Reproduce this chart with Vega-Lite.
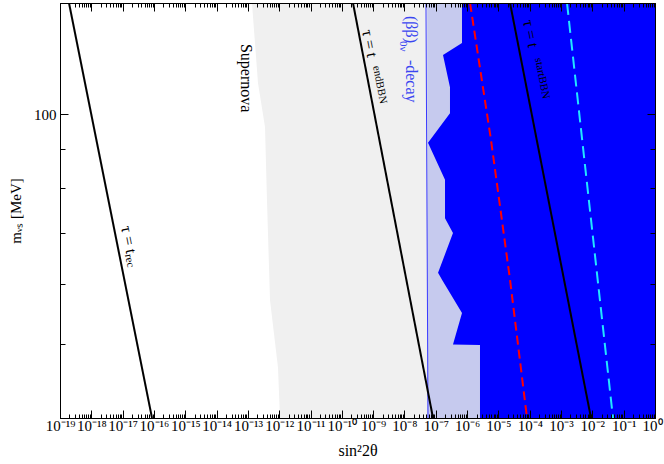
{
  "$schema": "https://vega.github.io/schema/vega-lite/v6.json",
  "width": 595,
  "height": 415,
  "autosize": {"type": "none"},
  "padding": {"left": 60, "top": 3, "right": 9, "bottom": 46},
  "background": "white",
  "config": {"view": {"stroke": "black", "strokeWidth": 1}, "font": "Liberation Serif"},
  "datasets": {
    "sn": [{"s":1.35e-13,"m":140},{"s":2.10e-13,"m":110.0},{"s":3.52e-13,"m":96.3},{"s":4.07e-13,"m":77.2},{"s":5.08e-13,"m":57.1},{"s":9.14e-13,"m":46.6},{"s":1.06e-12,"m":40}],
    "light": [{"s1":5.3e-8,"s2":2.58e-6,"m1":40,"m2":140}],
    "blue": [{"s":6.87e-7,"m":140},{"s":6.87e-7,"m":124.1},{"s":1.70e-7,"m":119.7},{"s":2.84e-7,"m":108.6},{"s":2.84e-7,"m":100.4},{"s":5.64e-8,"m":91.8},{"s":1.97e-7,"m":82.1},{"s":1.97e-7,"m":73.1},{"s":3.54e-7,"m":69.9},{"s":1.18e-7,"m":62.0},{"s":1.58e-7,"m":60.7},{"s":6.87e-7,"m":54.9},{"s":3.54e-7,"m":49.95},{"s":2.58e-6,"m":49.85},{"s":2.58e-6,"m":40}],
    "lines": [{"id":"rec","s":1.94e-19,"m":140},{"id":"rec","s":8.67e-17,"m":40},{"id":"end","s":2.27e-10,"m":140},{"id":"end","s":8.15e-8,"m":40},{"id":"start","s":2.35e-5,"m":140},{"id":"start","s":9.04e-3,"m":40}],
    "bline": [{"s":4.86e-8,"m":140},{"s":5.64e-8,"m":40}],
    "red": [{"s":1.24e-6,"m":140},{"s":5.79e-6,"m":92.6},{"s":2.35e-5,"m":60.7},{"s":8.18e-5,"m":40}],
    "cyan": [{"s":1.55e-3,"m":140},{"s":4.56e-2,"m":40}],
    "tauMain": [{"s":1.28e-17,"m":71.4,"t":"τ = t"},{"s":6.35e-10,"m":129.1,"t":"τ = t"},{"s":8.79e-5,"m":133.0,"t":"τ = t"}],
    "tauSub": [{"s":1.48e-17,"m":65.6,"t":"rec"},{"s":1.23e-9,"m":115.8,"t":"endBBN"},{"s":1.84e-4,"m":118.6,"t":"startBBN"}],
    "snLabel": [{"s":8.71e-14,"m":111.6,"t":"Supernova"}],
    "bbMain": [{"s":1.61e-8,"m":134.6,"t":"(ββ)"},{"s":1.61e-8,"m":117.9,"t":"-decay"}],
    "bbSub": [{"s":9.3e-9,"m":124.8,"t":"0ν"}]
  },
  "resolve": {"axis": {"x": "independent", "y": "independent"}},
  "layer": [
    {
      "data": {"name": "sn"},
      "mark": {"type": "area", "orient": "horizontal", "color": "#f0f0f0", "clip": true},
      "encoding": {
        "y": {"field": "m", "type": "quantitative", "scale": {"type": "log", "domain": [40, 140], "nice": false, "zero": false},
          "axis": {"orient": "left", "values": [40, 50, 60, 70, 80, 90, 100], "labelExpr": "datum.value == 100 ? '100' : ''",
            "tickSize": {"condition": {"test": "datum.value == 100", "value": -8}, "value": -5},
            "tickColor": "black", "domainColor": "black", "labelFont": "Liberation Serif", "labelFontSize": 15, "labelColor": "black", "labelPadding": 12,
            "grid": false, "zindex": 1, "labelFlush": false, "labelOverlap": false,
            "title": "mᵥₛ [MeV]", "titleFont": "Liberation Serif", "titleFontSize": 15, "titleFontWeight": "normal", "titleColor": "black", "titlePadding": 10}},
        "x": {"field": "s", "type": "quantitative", "scale": {"type": "log", "domain": [1e-19, 1], "nice": false, "zero": false},
          "axis": {"orient": "bottom",
            "values": [1e-19,2e-19,3e-19,4e-19,5e-19,6e-19,7e-19,8e-19,9e-19,1e-18,2e-18,3e-18,4e-18,5e-18,6e-18,7e-18,8e-18,9e-18,1e-17,2e-17,3e-17,4e-17,5e-17,6e-17,7e-17,8e-17,9e-17,1e-16,2e-16,3e-16,4e-16,5e-16,6e-16,7e-16,8e-16,9e-16,1e-15,2e-15,3e-15,4e-15,5e-15,6e-15,7e-15,8e-15,9e-15,1e-14,2e-14,3e-14,4e-14,5e-14,6e-14,7e-14,8e-14,9e-14,1e-13,2e-13,3e-13,4e-13,5e-13,6e-13,7e-13,8e-13,9e-13,1e-12,2e-12,3e-12,4e-12,5e-12,6e-12,7e-12,8e-12,9e-12,1e-11,2e-11,3e-11,4e-11,5e-11,6e-11,7e-11,8e-11,9e-11,1e-10,2e-10,3e-10,4e-10,5e-10,6e-10,7e-10,8e-10,9e-10,1e-9,2e-9,3e-9,4e-9,5e-9,6e-9,7e-9,8e-9,9e-9,1e-8,2e-8,3e-8,4e-8,5e-8,6e-8,7e-8,8e-8,9e-8,1e-7,2e-7,3e-7,4e-7,5e-7,6e-7,7e-7,8e-7,9e-7,1e-6,2e-6,3e-6,4e-6,5e-6,6e-6,7e-6,8e-6,9e-6,1e-5,2e-5,3e-5,4e-5,5e-5,6e-5,7e-5,8e-5,9e-5,1e-4,2e-4,3e-4,4e-4,5e-4,6e-4,7e-4,8e-4,9e-4,1e-3,2e-3,3e-3,4e-3,5e-3,6e-3,7e-3,8e-3,9e-3,1e-2,2e-2,3e-2,4e-2,5e-2,6e-2,7e-2,8e-2,9e-2,1e-1,2e-1,3e-1,4e-1,5e-1,6e-1,7e-1,8e-1,9e-1,1],
            "labelExpr": "abs(log(datum.value)/LN10 - round(log(datum.value)/LN10)) > 0.01 ? '' : '10' + (round(log(datum.value)/LN10) < 0 ? '⁻' : '') + (abs(round(log(datum.value)/LN10)) >= 10 ? ['⁰','¹','²','³','⁴','⁵','⁶','⁷','⁸','⁹'][floor(abs(round(log(datum.value)/LN10))/10)] : '') + ['⁰','¹','²','³','⁴','⁵','⁶','⁷','⁸','⁹'][abs(round(log(datum.value)/LN10)) % 10]",
            "tickSize": {"condition": {"test": "abs(log(datum.value)/LN10 - round(log(datum.value)/LN10)) < 0.01", "value": -8}, "value": -4},
            "labelAlign": {"condition": {"test": "datum.value == 1", "value": "right"}, "value": "center"},
            "labelOffset": {"condition": {"test": "datum.value == 1", "value": 7}, "value": 0},
            "tickColor": "black", "domainColor": "black", "labelFont": "Liberation Serif", "labelFontSize": 15, "labelColor": "black", "labelPadding": 8,
            "grid": false, "zindex": 1, "labelFlush": false, "labelOverlap": false, "labelBound": false,
            "title": "sin²2θ", "titleFont": "Liberation Serif", "titleFontSize": 16, "titleFontWeight": "normal", "titleColor": "black", "titlePadding": 5}},
        "x2": {"datum": 6e-8}
      }
    },
    {
      "data": {"name": "light"},
      "mark": {"type": "rect", "color": "#c6caee", "clip": true},
      "encoding": {
        "x": {"field": "s1", "type": "quantitative", "scale": {"type": "log", "domain": [1e-19, 1], "nice": false, "zero": false}, "axis": null},
        "x2": {"field": "s2"},
        "y": {"field": "m1", "type": "quantitative", "scale": {"type": "log", "domain": [40, 140], "nice": false, "zero": false}, "axis": null},
        "y2": {"field": "m2"}
      }
    },
    {
      "data": {"name": "blue"},
      "mark": {"type": "area", "orient": "horizontal", "color": "#0000ff", "clip": true},
      "encoding": {
        "x": {"field": "s", "type": "quantitative", "scale": {"type": "log", "domain": [1e-19, 1], "nice": false, "zero": false}, "axis": null},
        "x2": {"datum": 1},
        "y": {"field": "m", "type": "quantitative", "scale": {"type": "log", "domain": [40, 140], "nice": false, "zero": false}, "axis": null}
      }
    },
    {
      "data": {"name": "bline"},
      "mark": {"type": "line", "color": "#3a3aff", "strokeWidth": 1, "clip": true},
      "encoding": {
        "x": {"field": "s", "type": "quantitative", "scale": {"type": "log", "domain": [1e-19, 1], "nice": false, "zero": false},
          "axis": {"orient": "top", "values": [1e-19,2e-19,3e-19,4e-19,5e-19,6e-19,7e-19,8e-19,9e-19,1e-18,2e-18,3e-18,4e-18,5e-18,6e-18,7e-18,8e-18,9e-18,1e-17,2e-17,3e-17,4e-17,5e-17,6e-17,7e-17,8e-17,9e-17,1e-16,2e-16,3e-16,4e-16,5e-16,6e-16,7e-16,8e-16,9e-16,1e-15,2e-15,3e-15,4e-15,5e-15,6e-15,7e-15,8e-15,9e-15,1e-14,2e-14,3e-14,4e-14,5e-14,6e-14,7e-14,8e-14,9e-14,1e-13,2e-13,3e-13,4e-13,5e-13,6e-13,7e-13,8e-13,9e-13,1e-12,2e-12,3e-12,4e-12,5e-12,6e-12,7e-12,8e-12,9e-12,1e-11,2e-11,3e-11,4e-11,5e-11,6e-11,7e-11,8e-11,9e-11,1e-10,2e-10,3e-10,4e-10,5e-10,6e-10,7e-10,8e-10,9e-10,1e-9,2e-9,3e-9,4e-9,5e-9,6e-9,7e-9,8e-9,9e-9,1e-8,2e-8,3e-8,4e-8,5e-8,6e-8,7e-8,8e-8,9e-8,1e-7,2e-7,3e-7,4e-7,5e-7,6e-7,7e-7,8e-7,9e-7,1e-6,2e-6,3e-6,4e-6,5e-6,6e-6,7e-6,8e-6,9e-6,1e-5,2e-5,3e-5,4e-5,5e-5,6e-5,7e-5,8e-5,9e-5,1e-4,2e-4,3e-4,4e-4,5e-4,6e-4,7e-4,8e-4,9e-4,1e-3,2e-3,3e-3,4e-3,5e-3,6e-3,7e-3,8e-3,9e-3,1e-2,2e-2,3e-2,4e-2,5e-2,6e-2,7e-2,8e-2,9e-2,1e-1,2e-1,3e-1,4e-1,5e-1,6e-1,7e-1,8e-1,9e-1,1],
            "labels": false, "title": null, "grid": false, "zindex": 1, "tickColor": "black", "domainColor": "black",
            "tickSize": {"condition": {"test": "abs(log(datum.value)/LN10 - round(log(datum.value)/LN10)) < 0.01", "value": -8}, "value": -4}}},
        "y": {"field": "m", "type": "quantitative", "scale": {"type": "log", "domain": [40, 140], "nice": false, "zero": false},
          "axis": {"orient": "right", "values": [40, 50, 60, 70, 80, 90, 100], "labels": false, "title": null, "grid": false, "zindex": 1, "tickColor": "black", "domainColor": "black",
            "tickSize": {"condition": {"test": "datum.value == 100", "value": -8}, "value": -5}}}
      }
    },
    {
      "data": {"name": "lines"},
      "mark": {"type": "line", "color": "black", "strokeWidth": 2, "clip": true},
      "encoding": {
        "x": {"field": "s", "type": "quantitative", "scale": {"type": "log", "domain": [1e-19, 1], "nice": false, "zero": false}, "axis": null},
        "y": {"field": "m", "type": "quantitative", "scale": {"type": "log", "domain": [40, 140], "nice": false, "zero": false}, "axis": null},
        "detail": {"field": "id", "type": "nominal"}
      }
    },
    {
      "data": {"name": "red"},
      "mark": {"type": "line", "color": "#ff0000", "strokeWidth": 2, "strokeDash": [9, 5], "clip": true},
      "encoding": {
        "x": {"field": "s", "type": "quantitative", "scale": {"type": "log", "domain": [1e-19, 1], "nice": false, "zero": false}, "axis": null},
        "y": {"field": "m", "type": "quantitative", "scale": {"type": "log", "domain": [40, 140], "nice": false, "zero": false}, "axis": null}
      }
    },
    {
      "data": {"name": "cyan"},
      "mark": {"type": "line", "color": "#22e6ff", "strokeWidth": 2, "strokeDash": [12, 6], "clip": true},
      "encoding": {
        "x": {"field": "s", "type": "quantitative", "scale": {"type": "log", "domain": [1e-19, 1], "nice": false, "zero": false}, "axis": null},
        "y": {"field": "m", "type": "quantitative", "scale": {"type": "log", "domain": [40, 140], "nice": false, "zero": false}, "axis": null}
      }
    },
    {
      "data": {"name": "tauMain"},
      "mark": {"type": "text", "angle": 79, "align": "left", "baseline": "middle", "font": "Liberation Serif", "fontSize": 16, "color": "black"},
      "encoding": {
        "x": {"field": "s", "type": "quantitative", "scale": {"type": "log", "domain": [1e-19, 1], "nice": false, "zero": false}, "axis": null},
        "y": {"field": "m", "type": "quantitative", "scale": {"type": "log", "domain": [40, 140], "nice": false, "zero": false}, "axis": null},
        "text": {"field": "t"}
      }
    },
    {
      "data": {"name": "tauSub"},
      "mark": {"type": "text", "angle": 79, "align": "left", "baseline": "middle", "font": "Liberation Serif", "fontSize": 11, "color": "black"},
      "encoding": {
        "x": {"field": "s", "type": "quantitative", "scale": {"type": "log", "domain": [1e-19, 1], "nice": false, "zero": false}, "axis": null},
        "y": {"field": "m", "type": "quantitative", "scale": {"type": "log", "domain": [40, 140], "nice": false, "zero": false}, "axis": null},
        "text": {"field": "t"}
      }
    },
    {
      "data": {"name": "snLabel"},
      "mark": {"type": "text", "angle": 90, "align": "center", "baseline": "middle", "font": "Liberation Serif", "fontSize": 16, "color": "black"},
      "encoding": {
        "x": {"field": "s", "type": "quantitative", "scale": {"type": "log", "domain": [1e-19, 1], "nice": false, "zero": false}, "axis": null},
        "y": {"field": "m", "type": "quantitative", "scale": {"type": "log", "domain": [40, 140], "nice": false, "zero": false}, "axis": null},
        "text": {"field": "t"}
      }
    },
    {
      "data": {"name": "bbMain"},
      "mark": {"type": "text", "angle": 90, "align": "left", "baseline": "middle", "font": "Liberation Serif", "fontSize": 16, "color": "#3a46f0"},
      "encoding": {
        "x": {"field": "s", "type": "quantitative", "scale": {"type": "log", "domain": [1e-19, 1], "nice": false, "zero": false}, "axis": null},
        "y": {"field": "m", "type": "quantitative", "scale": {"type": "log", "domain": [40, 140], "nice": false, "zero": false}, "axis": null},
        "text": {"field": "t"}
      }
    },
    {
      "data": {"name": "bbSub"},
      "mark": {"type": "text", "angle": 90, "align": "left", "baseline": "middle", "font": "Liberation Serif", "fontSize": 11, "color": "#3a46f0"},
      "encoding": {
        "x": {"field": "s", "type": "quantitative", "scale": {"type": "log", "domain": [1e-19, 1], "nice": false, "zero": false}, "axis": null},
        "y": {"field": "m", "type": "quantitative", "scale": {"type": "log", "domain": [40, 140], "nice": false, "zero": false}, "axis": null},
        "text": {"field": "t"}
      }
    }
  ]
}
